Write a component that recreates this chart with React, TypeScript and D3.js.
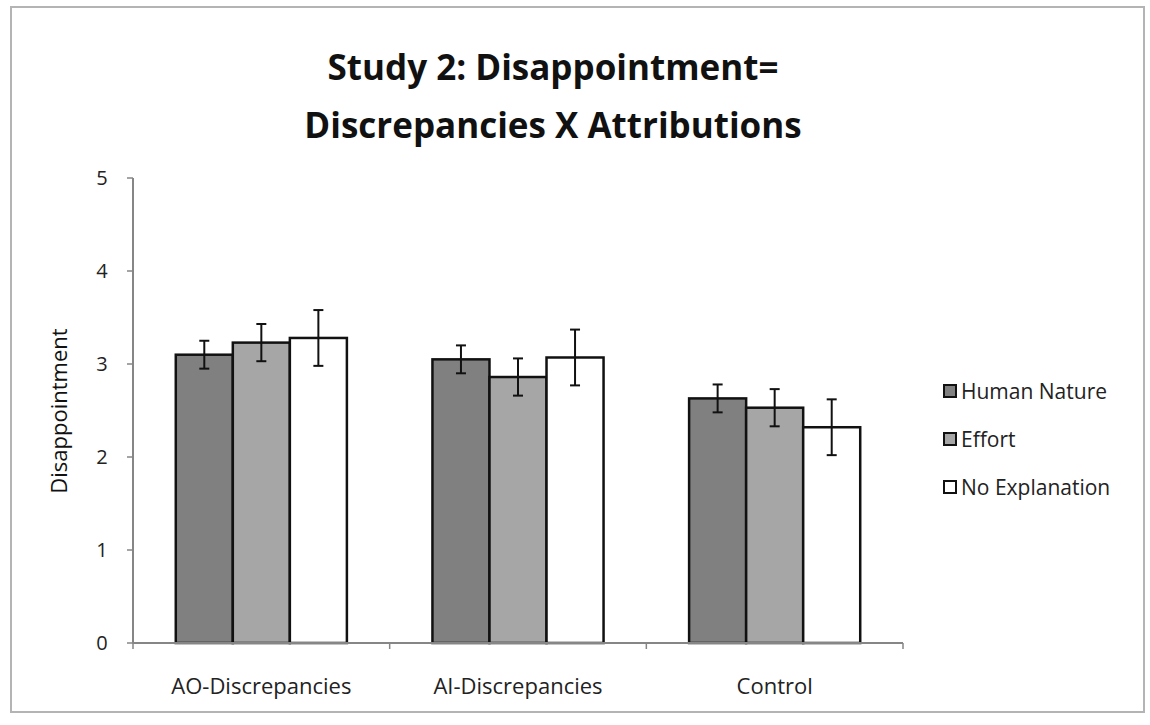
import React from "react";
import * as d3 from "d3";

const categories = ["AO-Discrepancies", "AI-Discrepancies", "Control"];
const seriesNames = ["Human Nature", "Effort", "No Explanation"];
const seriesColors = ["#808080", "#a6a6a6", "#ffffff"];
const humanNature = [3.1, 3.05, 2.63];
const effort = [3.23, 2.86, 2.53];
const noExplanation = [3.28, 3.07, 2.32];
const humanNatureErr = [0.15, 0.15, 0.15];
const effortErr = [0.2, 0.2, 0.2];
const noExplanationErr = [0.3, 0.3, 0.3];
const yTicks = [0, 1, 2, 3, 4, 5];
const titleLines = ["Study 2: Disappointment=", "Discrepancies X Attributions"];
const yAxisTitle = "Disappointment";

const W = 1150;
const H = 725;
const left = 133;
const right = 903;
const top = 178;
const bottom = 643;

export default function App() {
  const values = [humanNature, effort, noExplanation];
  const errs = [humanNatureErr, effortErr, noExplanationErr];
  const x0 = d3.scaleBand<string>().domain(categories).range([left, right]).paddingInner(0).paddingOuter(0);
  const x1 = d3
    .scaleBand<string>()
    .domain(seriesNames)
    .range([0, x0.bandwidth()])
    .paddingInner(0)
    .paddingOuter(0.75);
  const y = d3.scaleLinear().domain([0, 5]).range([bottom, top]);
  const font = "'Open Sans', sans-serif";
  const axisColor = "#868686";
  const boundaries = [...categories.map((c) => x0(c) as number), right];

  return (
    <svg width={W} height={H} style={{ position: "absolute", left: 0, top: 0, background: "#fff" }}>
      <rect x={0} y={0} width={W} height={H} fill="#fff" />
      <rect x={11} y={7} width={1133} height={705} fill="#fff" stroke="#b4b4b4" strokeWidth={2} />
      {titleLines.map((t, i) => (
        <text
          key={t}
          x={553}
          y={80 + i * 58}
          textAnchor="middle"
          fontFamily={font}
          fontWeight={700}
          fontSize={35}
          fill="#111"
        >
          {t}
        </text>
      ))}
      {/* y axis */}
      <line x1={left} x2={left} y1={top} y2={bottom} stroke={axisColor} strokeWidth={2} />
      {yTicks.map((t) => (
        <g key={t}>
          <line x1={left - 6} x2={left} y1={y(t)} y2={y(t)} stroke={axisColor} strokeWidth={1.5} />
          <text x={102} y={y(t) + 7} textAnchor="middle" fontFamily={font} fontSize={20} fill="#222">
            {t}
          </text>
        </g>
      ))}
      <text
        transform={`translate(67,411) rotate(-90)`}
        textAnchor="middle"
        fontFamily={font}
        fontSize={22}
        fill="#111"
      >
        {yAxisTitle}
      </text>
      {/* bars */}
      {categories.map((c, ci) =>
        seriesNames.map((s, si) => {
          const bx = (x0(c) as number) + (x1(s) as number);
          const v = values[si][ci];
          const e = errs[si][ci];
          const cx = bx + x1.bandwidth() / 2;
          return (
            <g key={c + s}>
              <rect
                x={bx}
                y={y(v)}
                width={x1.bandwidth()}
                height={bottom - y(v)}
                fill={seriesColors[si]}
                stroke="#111"
                strokeWidth={2.5}
              />
              <line x1={cx} x2={cx} y1={y(v + e)} y2={y(v - e)} stroke="#111" strokeWidth={2} />
              <line x1={cx - 5} x2={cx + 5} y1={y(v + e)} y2={y(v + e)} stroke="#111" strokeWidth={2} />
              <line x1={cx - 5} x2={cx + 5} y1={y(v - e)} y2={y(v - e)} stroke="#111" strokeWidth={2} />
            </g>
          );
        })
      )}
      {/* x axis */}
      <line x1={left} x2={right} y1={bottom} y2={bottom} stroke={axisColor} strokeWidth={2} />
      {boundaries.map((b, i) => (
        <line key={i} x1={b} x2={b} y1={bottom} y2={bottom + 6} stroke={axisColor} strokeWidth={1.5} />
      ))}
      {categories.map((c) => (
        <text
          key={c}
          x={(x0(c) as number) + x0.bandwidth() / 2}
          y={694}
          textAnchor="middle"
          fontFamily={font}
          fontSize={22}
          fill="#222"
        >
          {c}
        </text>
      ))}
      {/* legend */}
      {seriesNames.map((s, i) => (
        <g key={s}>
          <rect x={944} y={385 + i * 48} width={12} height={12} fill={seriesColors[i]} stroke="#111" strokeWidth={2} />
          <text x={961} y={399 + i * 48} fontFamily={font} fontSize={21} fill="#222">
            {s}
          </text>
        </g>
      ))}
    </svg>
  );
}
